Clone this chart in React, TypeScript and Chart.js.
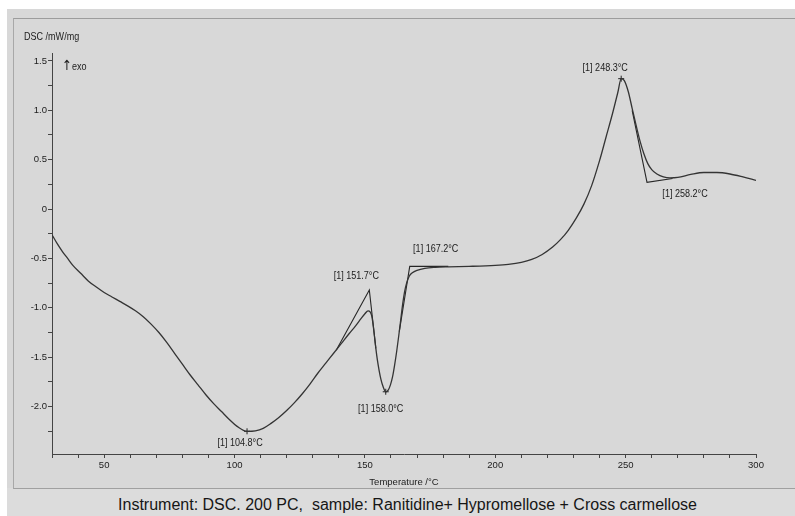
import { useEffect, useRef } from 'react';
import { Chart, registerables } from 'chart.js';

Chart.register(...registerables);

// DSC heating curve: temperature (°C) and heat flow (mW/mg), exo up
const dscTemperature = [
  30, 32, 34, 36, 38, 41, 44, 47, 50, 53, 56, 59, 62, 65, 68, 71, 74, 77, 80, 83,
  86, 89, 92, 95, 98, 101, 104.8, 108, 111, 114, 117, 120, 123, 126, 129, 132,
  135, 138, 141, 144, 146.5, 148.5, 150, 151.2, 152, 152.6, 153.1, 153.6, 154.2,
  154.8, 155.5, 156.2, 157, 158, 159, 159.8, 160.6, 161.4, 162.2, 163, 163.8,
  164.5, 165.2, 166, 167, 168.2, 170, 173, 177, 182, 190, 200, 205, 210, 214,
  218, 222, 225, 228, 231, 234, 237, 240, 242.5, 245, 247, 248.3, 249.5, 251,
  252.5, 254, 255.5, 257, 258.5, 260, 262, 264.5, 267, 270, 275, 280, 285, 290,
  295, 300,
];
const dscSignal = [
  -0.26, -0.35, -0.43, -0.5, -0.57, -0.65, -0.73, -0.79, -0.845, -0.89, -0.935,
  -0.98, -1.03, -1.09, -1.165, -1.25, -1.35, -1.46, -1.57, -1.68, -1.78, -1.88,
  -1.97, -2.05, -2.13, -2.2, -2.25, -2.245, -2.22, -2.17, -2.11, -2.04, -1.96,
  -1.87, -1.77, -1.66, -1.56, -1.46, -1.36, -1.26, -1.18, -1.11, -1.06, -1.03,
  -1.04, -1.08, -1.16, -1.27, -1.41, -1.53, -1.64, -1.73, -1.8, -1.85, -1.83,
  -1.78, -1.7, -1.58, -1.44, -1.28, -1.11, -0.96, -0.84, -0.75, -0.68, -0.645,
  -0.62, -0.6, -0.59, -0.585, -0.58, -0.57, -0.56, -0.54, -0.51, -0.46, -0.385,
  -0.31, -0.215, -0.095, 0.05, 0.24, 0.49, 0.73, 0.97, 1.18, 1.32, 1.3, 1.19,
  1.02, 0.85, 0.69, 0.56, 0.46, 0.4, 0.355, 0.325, 0.315, 0.32, 0.35, 0.37, 0.37,
  0.355, 0.325, 0.29,
];

// Peak (extremum) evaluations
const peakTemperature = [104.8, 158.0, 248.3];
const peakSignal = [-2.25, -1.85, 1.32];

// Onset / end-set evaluations (tangent intersections)
const onsetTemperature = [151.7, 167.2, 258.2];
const onsetSignal = [-0.82, -0.58, 0.27];

// Tangent constructions through each onset point
const tangentA_T = [139, 151.7, 154.2];
const tangentA_S = [-1.43, -0.82, -1.41];
const tangentB_T = [163.2, 167.2, 182];
const tangentB_S = [-1.24, -0.58, -0.58];
const tangentC_T = [252.5, 258.2, 268];
const tangentC_S = [1.0, 0.27, 0.31];

const xTicks = { min: 30, max: 300, step: 10, labelEvery: 50 };
const yTicks = { min: -2.48, max: 1.58, step: 0.25, labelEvery: 0.5 };

const toPoints = (xs: number[], ys: number[]) => xs.map((x, i) => ({ x, y: ys[i] }));
const evalLabel = (t: number) => `[1] ${t.toFixed(1)}°C`;

const FONT = '"Liberation Sans", Arial, "DejaVu Sans", sans-serif';
const INK = '#1c1c1c';

// pixel offsets of evaluation labels relative to their marks
const peakLabelOffset = [[-7, 12], [-5, 17], [-16, -11]];
const onsetLabelOffset = [[-13, -14], [26, -17], [38, 12]];

const annotations = {
  id: 'dscAnnotations',
  afterDatasetsDraw(chart: any) {
    const { ctx, scales } = chart;
    const x = scales.x;
    const y = scales.y;
    const drawNarrow = (text: string, px: number, py: number, size: number, align: CanvasTextAlign, family = FONT) => {
      ctx.save();
      ctx.translate(px, py);
      ctx.scale(0.86, 1);
      ctx.font = `${size}px ${family}`;
      ctx.fillStyle = INK;
      ctx.textAlign = align;
      ctx.textBaseline = 'middle';
      ctx.fillText(text, 0, 0);
      ctx.restore();
    };
    peakTemperature.forEach((t, i) => {
      const [dx, dy] = peakLabelOffset[i];
      drawNarrow(evalLabel(t), x.getPixelForValue(t) + dx, y.getPixelForValue(peakSignal[i]) + dy, 10.5, 'center');
    });
    onsetTemperature.forEach((t, i) => {
      const [dx, dy] = onsetLabelOffset[i];
      drawNarrow(evalLabel(t), x.getPixelForValue(t) + dx, y.getPixelForValue(onsetSignal[i]) + dy, 10.5, 'center');
    });
    const left = chart.chartArea.left;
    const top = chart.chartArea.top;
    drawNarrow('DSC /mW/mg', left - 28, top - 16, 10.5, 'left');
    drawNarrow('↑', left + 10, top + 13, 14, 'left', '"DejaVu Sans", sans-serif');
    drawNarrow('exo', left + 20, top + 14, 10.5, 'left');
  },
};

export default function App() {
  const canvasRef = useRef<HTMLCanvasElement | null>(null);

  useEffect(() => {
    if (!canvasRef.current) return;
    const tickFont = { family: FONT, size: 9.5 };
    const lineDs = (xs: number[], ys: number[], color: string, width: number, smooth: boolean) => ({
      data: toPoints(xs, ys),
      showLine: true,
      borderColor: color,
      borderWidth: width,
      pointRadius: 0,
      tension: smooth ? 0.4 : 0,
      cubicInterpolationMode: smooth ? 'monotone' : 'default',
      fill: false,
    });
    const chart = new Chart(canvasRef.current, {
      type: 'scatter',
      data: {
        datasets: [
          lineDs(dscTemperature, dscSignal, '#343434', 1.3, true),
          lineDs(tangentA_T, tangentA_S, '#262626', 1.1, false),
          lineDs(tangentB_T, tangentB_S, '#262626', 1.1, false),
          lineDs(tangentC_T, tangentC_S, '#262626', 1.1, false),
          {
            data: toPoints(peakTemperature, peakSignal),
            showLine: false,
            pointStyle: 'cross',
            pointRadius: 3,
            pointBorderWidth: 1,
            borderColor: '#222',
            backgroundColor: '#222',
          },
        ] as any,
      },
      options: {
        animation: false,
        responsive: false,
        devicePixelRatio: 1,
        layout: { padding: { left: 0, top: 53, right: 39, bottom: 0 } },
        plugins: { legend: { display: false }, tooltip: { enabled: false } },
        scales: {
          x: {
            type: 'linear',
            min: xTicks.min,
            max: xTicks.max,
            afterFit: (s: any) => { s.height = 62; },
            ticks: {
              stepSize: xTicks.step,
              includeBounds: false,
              autoSkip: false,
              maxRotation: 0,
              padding: 2,
              color: INK,
              font: tickFont,
              callback: (v: any) => (Number(v) % xTicks.labelEvery === 0 ? String(v) : ''),
            },
            grid: { drawOnChartArea: false, drawTicks: true, tickLength: 4, color: '#444' },
            border: { display: true, color: '#444', width: 1 },
            title: {
              display: true,
              text: 'Temperature /°C',
              color: INK,
              font: { family: FONT, size: 9.5 },
              padding: { top: 0, bottom: 28 },
            },
          },
          y: {
            type: 'linear',
            min: yTicks.min,
            max: yTicks.max,
            afterFit: (s: any) => { s.width = 52; },
            ticks: {
              stepSize: yTicks.step,
              includeBounds: false,
              autoSkip: false,
              padding: 1,
              color: INK,
              font: tickFont,
              callback: (v: any) => {
                const r = Math.round(Number(v) * 100) / 100;
                if (Math.abs(r % yTicks.labelEvery) > 1e-6) return '';
                return r === 0 ? '0' : r.toFixed(1);
              },
            },
            grid: { drawOnChartArea: false, drawTicks: true, tickLength: 4, color: '#444' },
            border: { display: true, color: '#444', width: 1 },
          },
        },
      } as any,
      plugins: [annotations],
    });
    return () => chart.destroy();
  }, []);

  return (
    <div style={{ position: 'fixed', left: 0, top: 0, width: 795, height: 516, background: '#ffffff', overflow: 'hidden' }}>
      <div style={{ position: 'absolute', left: 7, top: 9, right: 0, bottom: 0, background: '#d8d8d8' }} />
      <div style={{ position: 'absolute', left: 7, top: 488, right: 0, bottom: 0, background: '#dcdcdc' }} />
      <div
        style={{
          position: 'absolute', left: 13, top: 18, width: 782, height: 469,
          borderTop: '1px solid #9c9c9c', borderLeft: '1px solid #a8a8a8', borderBottom: '1px solid #a0a0a0',
        }}
      />
      <div
        style={{
          position: 'absolute', left: 0, width: 815, top: 494, textAlign: 'center',
          fontFamily: FONT, fontSize: 16, color: '#161616', lineHeight: '22px', whiteSpace: 'pre',
        }}
      >
        {'Instrument: DSC. 200 PC,  sample: Ranitidine+ Hypromellose + Cross carmellose'}
      </div>
      <canvas ref={canvasRef} width={795} height={516} style={{ position: 'absolute', left: 0, top: 0 }} />
    </div>
  );
}
